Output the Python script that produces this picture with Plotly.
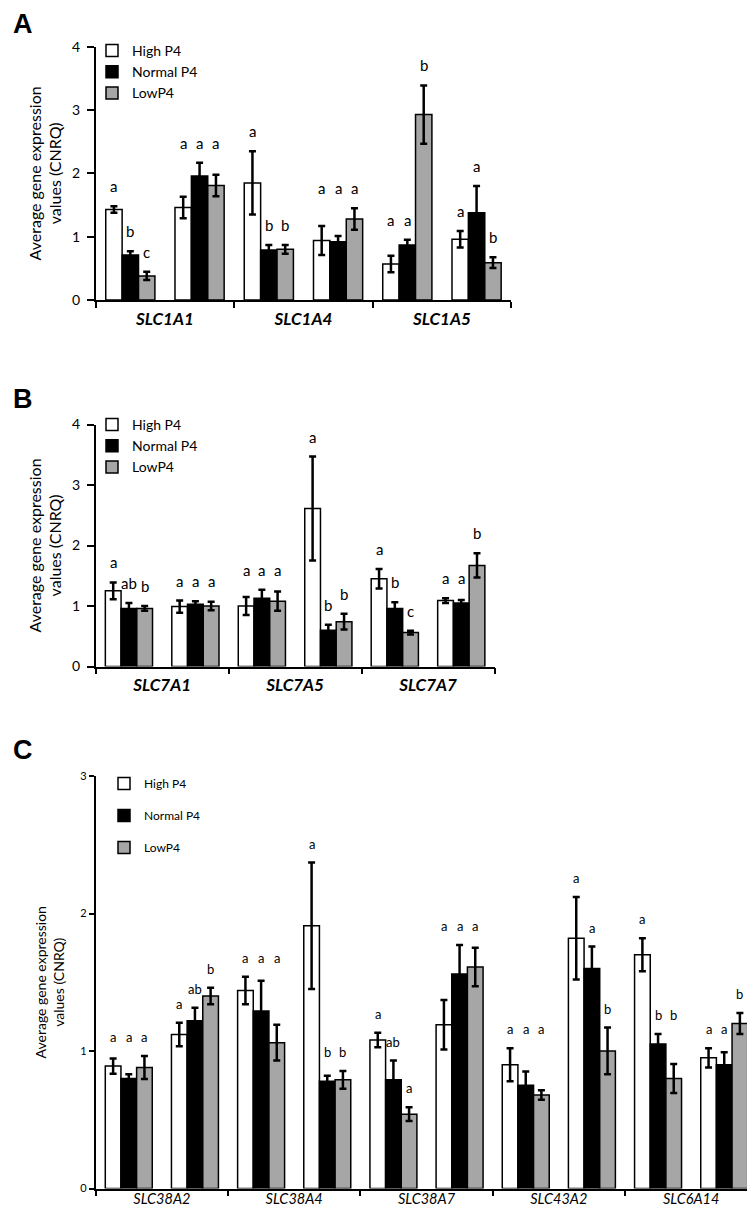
import plotly.graph_objects as go

# ---------------- data ----------------
groups = ["High P4", "Normal P4", "LowP4"]

a_genes = ["SLC1A1", "SLC1A4", "SLC1A5"]
a_high = [1.43, 1.46, 1.85, 0.94, 0.57, 0.96]
a_high_err = [0.05, 0.17, 0.50, 0.23, 0.13, 0.13]
a_normal = [0.71, 1.96, 0.79, 0.92, 0.87, 1.38]
a_normal_err = [0.06, 0.21, 0.08, 0.09, 0.08, 0.42]
a_low = [0.38, 1.81, 0.80, 1.28, 2.93, 0.59]
a_low_err = [0.065, 0.17, 0.07, 0.17, 0.46, 0.085]
a_letters = [["a", "b", "c"], ["a", "a", "a"], ["a", "b", "b"],
             ["a", "a", "a"], ["a", "a", "b"], ["a", "a", "b"]]

b_genes = ["SLC7A1", "SLC7A5", "SLC7A7"]
b_high = [1.25, 0.99, 1.00, 2.61, 1.45, 1.09]
b_high_err = [0.14, 0.10, 0.15, 0.86, 0.16, 0.04]
b_normal = [0.96, 1.03, 1.13, 0.60, 0.96, 1.05]
b_normal_err = [0.09, 0.05, 0.14, 0.09, 0.10, 0.05]
b_low = [0.96, 1.00, 1.08, 0.74, 0.56, 1.67]
b_low_err = [0.04, 0.07, 0.16, 0.13, 0.03, 0.20]
b_letters = [["a", "ab", "b"], ["a", "a", "a"], ["a", "a", "a"],
             ["a", "b", "b"], ["a", "b", "c"], ["a", "a", "b"]]

c_genes = ["SLC38A2", "SLC38A4", "SLC38A7", "SLC43A2", "SLC6A14"]
c_high = [0.89, 1.12, 1.44, 1.91, 1.08, 1.19, 0.90, 1.82, 1.70, 0.95]
c_high_err = [0.055, 0.085, 0.10, 0.46, 0.053, 0.18, 0.12, 0.30, 0.12, 0.07]
c_normal = [0.80, 1.22, 1.29, 0.78, 0.79, 1.56, 0.75, 1.60, 1.05, 0.90]
c_normal_err = [0.03, 0.095, 0.22, 0.04, 0.14, 0.21, 0.10, 0.16, 0.073, 0.09]
c_low = [0.88, 1.40, 1.06, 0.79, 0.54, 1.61, 0.68, 1.00, 0.80, 1.20]
c_low_err = [0.084, 0.06, 0.13, 0.065, 0.05, 0.14, 0.035, 0.17, 0.105, 0.076]
c_letters = [["a", "a", "a"], ["a", "ab", "b"], ["a", "a", "a"], ["a", "b", "b"],
             ["a", "ab", "a"], ["a", "a", "a"], ["a", "a", "a"], ["a", "a", "b"],
             ["a", "b", "b"], ["a", "a", "b"]]

# ---------------- style / layout ----------------
W, H = 755, 1210
FONT = "Lato, Carlito, Calibri, sans-serif"
COLORS = ["#FFFFFF", "#000000", "#A6A6A6"]
BARGAP = 0.29


def px(x):
    return x / W


def py(y):
    return 1 - y / H


panels = [
    dict(label="A", genes=a_genes, vals=[a_high, a_normal, a_low],
         errs=[a_high_err, a_normal_err, a_low_err], letters=a_letters,
         align=[1, 1, 1, 1, 1, 0], ymax=4,
         xdom=(87.7, 503.2), ydom=(292.0, 38.8), lab_y=16,
         tickfs=14, titlefs=16, genefs=17, letterfs=15, legfs=14,
         leg=(84, 27), leggap=0, label_shift=1, standoff=6, genebold=True,
         yticklen=7, ystand=4),
    dict(label="B", genes=b_genes, vals=[b_high, b_normal, b_low],
         errs=[b_high_err, b_normal_err, b_low_err], letters=b_letters,
         align=[1, 1, 1, 0, 1, 1], ymax=4,
         xdom=(87.7, 486.5), ydom=(658.5, 416.5), lab_y=391,
         tickfs=14, titlefs=16, genefs=17, letterfs=15, legfs=14,
         leg=(84, 401), leggap=0, label_shift=0, standoff=6, genebold=True,
         yticklen=7, ystand=4),
    dict(label="C", genes=c_genes, vals=[c_high, c_normal, c_low],
         errs=[c_high_err, c_normal_err, c_low_err], letters=c_letters,
         align=[1, 1, 1, 1, 1, 1, 1, 0, 1, 1], ymax=3,
         xdom=(87.7, 749.3), ydom=(1180.5, 768.0), lab_y=742,
         tickfs=11, titlefs=14, genefs=14.5, letterfs=13, legfs=12,
         leg=(96, 761), leggap=13, label_shift=-6, standoff=12, genebold=False,
         yticklen=5, ystand=0),
]

fig = go.Figure()
annotations = []
layout = dict(
    width=W, height=H, margin=dict(l=0, r=0, t=0, b=0),
    paper_bgcolor="white", plot_bgcolor="white",
    barmode="group", bargap=BARGAP, bargroupgap=0,
    showlegend=True, template="none",
    font=dict(family=FONT, color="black"),
)

for pi, p in enumerate(panels):
    sfx = "" if pi == 0 else str(pi + 1)
    xa, ya = "x" + sfx, "y" + sfx
    legname = "legend" + sfx
    n = len(p["vals"][0])
    xs = list(range(n))
    for gi, g in enumerate(groups):
        fig.add_trace(go.Bar(
            x=xs, y=p["vals"][gi], name=g,
            xaxis=xa, yaxis=ya, legend=legname,
            legendgroup=p["label"] + g,
            marker=dict(color=COLORS[gi], line=dict(color="black", width=1.5)),
            error_y=dict(type="data", array=p["errs"][gi], color="black",
                         thickness=2.5, width=3.5),
        ))

    # significance letters
    bw = (1 - BARGAP) / 3
    for ci in range(n):
        tops = [p["vals"][gi][ci] + p["errs"][gi][ci] for gi in range(3)]
        levels = list(tops)
        if p["align"][ci]:
            gi = 0
            while gi < 3:
                gj = gi
                while gj + 1 < 3 and p["letters"][ci][gj + 1] == p["letters"][ci][gi]:
                    gj += 1
                m = max(tops[gi:gj + 1])
                for k in range(gi, gj + 1):
                    levels[k] = m
                gi = gj + 1
        for gi in range(3):
            annotations.append(dict(
                x=ci + (gi - 1) * bw, y=levels[gi], xref=xa, yref=ya,
                text=p["letters"][ci][gi], showarrow=False,
                yanchor="bottom", yshift=9,
                font=dict(family=FONT, size=p["letterfs"], color="black"),
            ))

    # panel letter
    annotations.append(dict(
        x=px(3), y=py(p["lab_y"]), xref="paper", yref="paper",
        xanchor="left", yanchor="middle", showarrow=False, text=p["label"],
        font=dict(family="Liberation Sans, Arial, sans-serif", size=27,
                  color="black", weight="bold"),
    ))

    ngenes = len(p["genes"])
    layout["xaxis" + sfx] = dict(
        domain=[px(p["xdom"][0]), px(p["xdom"][1])], anchor=ya,
        range=[-0.5, n - 0.5], showgrid=False, zeroline=False,
        showline=True, linecolor="black", linewidth=1.5,
        tickmode="array", tickvals=[2 * k + 0.5 for k in range(ngenes)],
        ticktext=p["genes"], ticks="outside", ticklen=2,
        tickcolor="rgba(0,0,0,0)", ticklabelstandoff=p["label_shift"],
        tickfont=dict(family=FONT, size=p["genefs"], color="black",
                      style="italic", weight="bold" if p["genebold"] else "normal"),
        minor=dict(tickmode="linear", tick0=-0.5, dtick=2, ticks="outside",
                   ticklen=6, tickwidth=1.5, tickcolor="black", showgrid=False),
        automargin=False, fixedrange=True,
    )
    layout["yaxis" + sfx] = dict(
        domain=[py(p["ydom"][0]), py(p["ydom"][1])], anchor=xa,
        range=[0, p["ymax"]], tickmode="linear", tick0=0, dtick=1,
        showgrid=False, zeroline=False, showline=True, linecolor="black",
        linewidth=1.5, ticks="outside", ticklen=p["yticklen"], tickwidth=1.5,
        tickcolor="black", ticklabelstandoff=p["ystand"],
        tickfont=dict(family=FONT, size=p["tickfs"], color="black"),
        title=dict(text="Average gene expression<br>values (CNRQ)",
                   font=dict(family=FONT, size=p["titlefs"], color="black"),
                   standoff=p["standoff"]),
        automargin=False, fixedrange=True,
    )
    layout[legname] = dict(
        x=px(p["leg"][0]), y=py(p["leg"][1]), xanchor="left", yanchor="top",
        xref="paper", yref="paper",
        bgcolor="rgba(0,0,0,0)", borderwidth=0, traceorder="grouped",
        tracegroupgap=p["leggap"],
        font=dict(family=FONT, size=p["legfs"], color="black"),
    )

layout["annotations"] = annotations
fig.update_layout(**layout)
fig.write_html("out.html")
